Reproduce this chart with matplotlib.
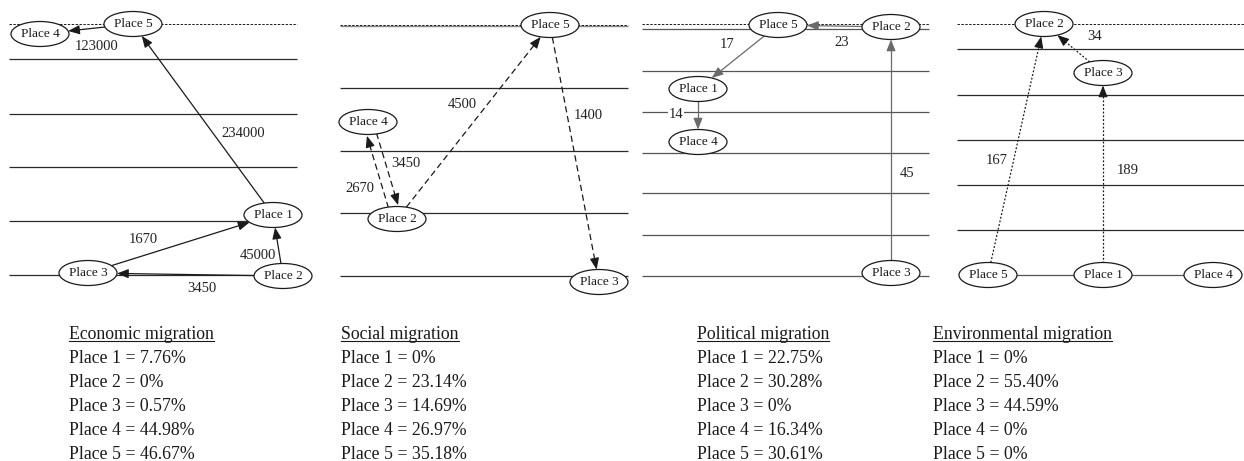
"""Four migration flow diagrams with share tables underneath."""

import matplotlib

matplotlib.use("Agg")
import matplotlib.pyplot as plt
import numpy as np
from matplotlib.patches import Ellipse

plt.rcParams["font.family"] = ["Liberation Serif", "DejaVu Serif"]

INK = "#1a1a1a"

# ---- data -----------------------------------------------------------------
TITLES = ["Economic migration", "Social migration", "Political migration", "Environmental migration"]
PLACES = ["Place 1", "Place 2", "Place 3", "Place 4", "Place 5"]
ECON_PCT = ["7.76%", "0%", "0.57%", "44.98%", "46.67%"]
SOCIAL_PCT = ["0%", "23.14%", "14.69%", "26.97%", "35.18%"]
POLIT_PCT = ["22.75%", "30.28%", "0%", "16.34%", "30.61%"]
ENV_PCT = ["0%", "55.40%", "44.59%", "0%", "0%"]

# edges: (from, to, flow)
ECON_EDGES = [("Place 5", "Place 4", 123000), ("Place 1", "Place 5", 234000),
              ("Place 3", "Place 1", 1670), ("Place 2", "Place 1", 45000),
              ("Place 2", "Place 3", 3450)]
SOCIAL_EDGES = [("Place 2", "Place 4", 2670), ("Place 4", "Place 2", 3450),
                ("Place 2", "Place 5", 4500), ("Place 5", "Place 3", 1400)]
POLIT_EDGES = [("Place 5", "Place 1", 17), ("Place 2", "Place 5", 23),
               ("Place 1", "Place 4", 14), ("Place 3", "Place 2", 45)]
ENV_EDGES = [("Place 3", "Place 2", 34), ("Place 5", "Place 2", 167),
             ("Place 1", "Place 3", 189)]

# ---- layout (pixel space of the 1244x461 canvas) ----------------------------
LAYOUT = [
    dict(x0=9, x1=297, top=24, levels=[59, 114, 167, 221, 275], color=INK, ls="-",
         nodes={"Place 5": (133, 24), "Place 4": (40, 34), "Place 1": (273, 215),
                "Place 3": (88, 273), "Place 2": (283, 276)},
         labels=[(97, 46), (243, 133), (143, 239), (258, 255), (202, 288)],
         text_x=69),
    dict(x0=340, x1=628, top=25, levels=[88, 151, 213, 276], color=INK, ls=(0, (5, 3)),
         nodes={"Place 5": (550, 25), "Place 4": (368, 122), "Place 2": (397, 219),
                "Place 3": (599, 282)},
         labels=[(360, 188), (406, 163), (462, 104), (588, 115)],
         text_x=341),
    dict(x0=642, x1=929, top=24, levels=[29, 71, 112, 153, 193, 235, 276], color="#6a6a6a",
         ls="-",
         nodes={"Place 5": (778, 25), "Place 2": (891, 27), "Place 1": (698, 89),
                "Place 4": (698, 142), "Place 3": (891, 273)},
         labels=[(727, 45), (842, 42), (676, 114), (907, 173)],
         text_x=697),
    dict(x0=957, x1=1244, top=24, levels=[49, 95, 140, 185, 230], color=INK, ls=(0, (1.5, 1.5)),
         nodes={"Place 2": (1044, 24), "Place 3": (1103, 73), "Place 5": (988, 275),
                "Place 1": (1103, 275), "Place 4": (1213, 275)},
         labels=[(1095, 37), (997, 160), (1128, 170)],
         text_x=933),
]
EDGES = [ECON_EDGES, SOCIAL_EDGES, POLIT_EDGES, ENV_EDGES]
PCTS = [ECON_PCT, SOCIAL_PCT, POLIT_PCT, ENV_PCT]

NODE_W, NODE_H = 58, 25


def rim(center, toward):
    """Point where the segment center->toward leaves the node ellipse."""
    c = np.asarray(center, float)
    d = np.asarray(toward, float) - c
    t = 1.0 / np.sqrt((d[0] / (NODE_W / 2)) ** 2 + (d[1] / (NODE_H / 2)) ** 2)
    return c + d * t


def main() -> None:
    fig = plt.figure(figsize=(12.44, 4.61), dpi=100, facecolor="white")
    ax = fig.add_axes([0, 0, 1, 1])
    ax.set_xlim(0, 1244)
    ax.set_ylim(461, 0)
    ax.axis("off")

    titles = []
    for k, lay in enumerate(LAYOUT):
        # level lines
        ax.hlines(lay["top"], lay["x0"], lay["x1"], color=INK, lw=0.7, ls=(0, (2.5, 1.5)), zorder=1)
        if k == 1:
            ax.hlines(lay["top"] + 1, lay["x0"], lay["x1"], color="#888888", lw=1.0, zorder=0)
        line_c = "#555555" if k == 2 else "#2a2a2a"
        ax.hlines(lay["levels"], lay["x0"], lay["x1"], color=line_c, lw=0.9, zorder=0)
        if k == 3:
            n5, n4 = lay["nodes"]["Place 5"], lay["nodes"]["Place 4"]
            ax.plot([n5[0], n4[0]], [n5[1], n4[1]], color="#555555", lw=0.9, zorder=0)

        # edges
        pairs = {(s, d) for s, d, _ in EDGES[k]}
        for (src, dst, flow), lab in zip(EDGES[k], lay["labels"]):
            a = np.asarray(lay["nodes"][src], float)
            b = np.asarray(lay["nodes"][dst], float)
            if (dst, src) in pairs:
                # two-way link: draw the pair side by side
                d = (b - a) / np.linalg.norm(b - a)
                a = a - np.array([-d[1], d[0]]) * 5
                b = b - np.array([-d[1], d[0]]) * 5
            p0, p1 = rim(a, b), rim(b, a)
            u = (p1 - p0) / np.linalg.norm(p1 - p0)
            ax.plot([p0[0], p1[0] - u[0] * 6], [p0[1], p1[1] - u[1] * 6],
                    color=lay["color"], lw=0.9, ls=lay["ls"], zorder=2)
            ax.annotate("", xy=p1, xytext=p1 - u * 9,
                        arrowprops=dict(arrowstyle="-|>,head_length=0.5,head_width=0.2",
                                        color=lay["color"], lw=0.8, mutation_scale=14,
                                        shrinkA=0, shrinkB=0), zorder=3)
            bbox = dict(fc="white", ec="none", pad=0.5) if (k == 2 and flow == 14) else None
            ax.text(lab[0], lab[1], str(flow), fontsize=10.5, color="#222222",
                    ha="center", va="center", bbox=bbox, zorder=4)

        # nodes
        for name, (x, y) in lay["nodes"].items():
            ax.add_patch(Ellipse((x, y), NODE_W, NODE_H, fc="white", ec=INK, lw=0.9, zorder=5))
            ax.text(x, y, name, fontsize=9.5, color=INK, ha="center", va="center", zorder=6)

        # share table
        tx = lay["text_x"]
        titles.append(ax.text(tx, 339, TITLES[k], fontsize=12.8, color=INK, va="baseline"))
        for i, (place, pct) in enumerate(zip(PLACES, PCTS[k])):
            ax.text(tx, 363 + 24 * i, f"{place} = {pct}", fontsize=12.8, color=INK, va="baseline")

    fig.canvas.draw()
    renderer = fig.canvas.get_renderer()
    for t in titles:
        bb = t.get_window_extent(renderer)
        ax.plot([bb.x0, bb.x1], [341, 341], color=INK, lw=0.8)

    fig.savefig("out.png", dpi=100, facecolor="white")


if __name__ == "__main__":
    main()
